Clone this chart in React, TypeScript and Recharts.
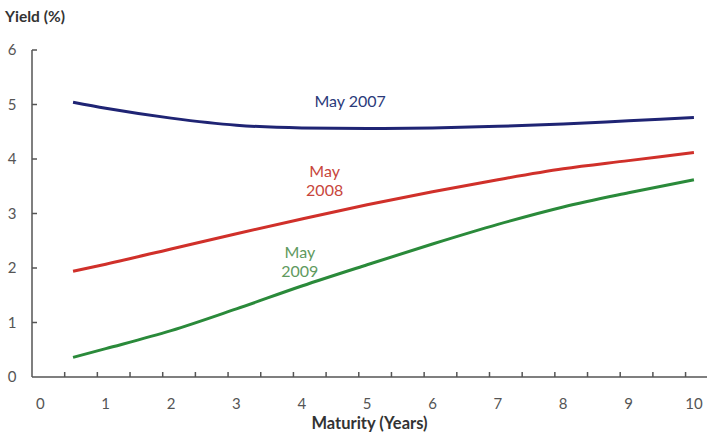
import React from 'react'
import { LineChart, Line, XAxis, YAxis, ReferenceDot } from 'recharts'

// maturity in years
const maturity = [0.5, 1, 2, 3, 4, 5, 6, 7, 8, 9, 10]
const may2007 = [5.04, 4.93, 4.75, 4.62, 4.57, 4.56, 4.57, 4.6, 4.64, 4.7, 4.76]
const may2008 = [1.94, 2.07, 2.35, 2.63, 2.9, 3.16, 3.4, 3.62, 3.82, 3.97, 4.12]
const may2009 = [0.36, 0.52, 0.85, 1.25, 1.67, 2.06, 2.44, 2.8, 3.12, 3.38, 3.62]

const xLabels = [0, 1, 2, 3, 4, 5, 6, 7, 8, 9, 10]
const xMinorTicks = [0.372, 0.872, 1.372, 1.872, 2.372, 2.872, 3.372, 3.872, 4.372, 4.872, 5.372, 5.872, 6.372, 6.872, 7.372, 7.872, 8.372, 8.872, 9.372, 9.872]
const yTicks = [0, 1, 2, 3, 4, 5, 6]

const data = maturity.map((m, i) => ({
  m,
  y2007: may2007[i],
  y2008: may2008[i],
  y2009: may2009[i]
}))

const AXIS = '#555'
const FONT = 'Lato, "Open Sans", sans-serif'

function XTick(props: any) {
  const { x, y, payload } = props
  const v = payload.value
  if (xLabels.includes(v)) {
    return (
      <text x={x} y={y + 32} textAnchor="middle" fill="#555" fontSize={15} fontFamily={FONT}>
        {v}
      </text>
    )
  }
  return <line x1={x} x2={x} y1={y} y2={y - 5} stroke={AXIS} strokeWidth={1.5} />
}

function YTick(props: any) {
  const { x, y, payload } = props
  return (
    <g>
      {payload.value > 0 && <line x1={x} x2={x + 5} y1={y} y2={y} stroke={AXIS} strokeWidth={1.5} />}
      <text x={x - 20} y={y + 5} textAnchor="middle" fill="#555" fontSize={15} fontFamily={FONT}>
        {payload.value}
      </text>
    </g>
  )
}

function Note({ viewBox, lines, color }: any) {
  const cx = viewBox.x
  const cy = viewBox.y
  return (
    <text x={cx} y={cy} textAnchor="middle" fill={color} fontSize={16} fontFamily={FONT}>
      {lines.map((l: string, i: number) => (
        <tspan key={i} x={cx} dy={i === 0 ? 0 : 19}>
          {l}
        </tspan>
      ))}
    </text>
  )
}

export default function App() {
  return (
    <div style={{ position: 'absolute', left: 0, top: 0, width: 707, height: 435, background: '#fff' }}>
      <div
        style={{
          position: 'absolute',
          left: 5,
          top: 7,
          fontFamily: FONT,
          fontWeight: 700,
          fontSize: 15.5,
          color: '#333'
        }}
      >
        Yield (%)
      </div>
      <LineChart width={707} height={435} data={data} margin={{ top: 50, right: 0, left: 0, bottom: 0 }}>
        <XAxis
          dataKey="m"
          type="number"
          domain={[-0.128, 10.2]}
          ticks={[...xLabels, ...xMinorTicks]}
          interval={0}
          tick={<XTick />}
          tickLine={false}
          tickSize={0}
          tickMargin={0}
          axisLine={{ stroke: AXIS, strokeWidth: 1.5 }}
          height={58}
          label={{
            value: 'Maturity (Years)',
            position: 'insideBottom',
            offset: 6,
            style: { fontFamily: FONT, fontWeight: 700, fontSize: 16.5, fill: '#333' }
          }}
        />
        <YAxis
          type="number"
          domain={[0, 6]}
          ticks={yTicks}
          interval={0}
          width={32}
          tick={<YTick />}
          tickLine={false}
          tickSize={0}
          tickMargin={0}
          axisLine={{ stroke: AXIS, strokeWidth: 1.5 }}
        />
        <Line dataKey="y2007" type="monotone" stroke="#1f2474" strokeWidth={3} dot={false} isAnimationActive={false} />
        <Line dataKey="y2008" type="monotone" stroke="#d0302a" strokeWidth={3} dot={false} isAnimationActive={false} />
        <Line dataKey="y2009" type="monotone" stroke="#2a8a3a" strokeWidth={3} dot={false} isAnimationActive={false} />
        <ReferenceDot x={4.74} y={4.96} r={0} label={<Note lines={['May 2007']} color="#2b3a7a" />} />
        <ReferenceDot x={4.35} y={3.67} r={0} label={<Note lines={['May', '2008']} color="#c8463c" />} />
        <ReferenceDot x={3.97} y={2.18} r={0} label={<Note lines={['May', '2009']} color="#5f9a60" />} />
      </LineChart>
    </div>
  )
}
